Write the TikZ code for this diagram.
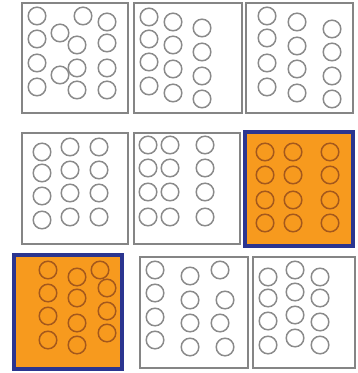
\documentclass[tikz,border=0pt]{standalone}
\usepackage{tikz}
\definecolor{frame}{HTML}{858585}
\definecolor{navy}{HTML}{2B3590}
\definecolor{amber}{HTML}{F79A1E}
\definecolor{ringgray}{HTML}{8A8A8A}
\definecolor{ringbrown}{HTML}{A4581C}
\begin{document}
\begin{tikzpicture}[x=0.75pt,y=-0.75pt,
 cell/.style={draw=frame,line width=1.2pt,fill=white},
 pick/.style={draw=navy,line width=2.4pt,fill=amber},
 ring/.style={draw=ringgray,line width=1.1pt},
 hot/.style={draw=ringbrown,line width=1.1pt}]
 \useasboundingbox (0,0) rectangle (357,373);
 \draw[cell] (22,3) rectangle (128,113);
 \draw[cell] (134,3) rectangle (242,113);
 \draw[cell] (246,3) rectangle (353,113);
 \draw[cell] (22,133) rectangle (128,244);
 \draw[cell] (134,133) rectangle (240,244);
 \draw[pick] (245,132) rectangle (353,246);
 \draw[pick] (14,255) rectangle (122,369);
 \draw[cell] (140,257) rectangle (248,368);
 \draw[cell] (253,257) rectangle (355,368);
 \foreach \x/\y in {37/16,83/16,107/22,37/39,60/33,77/45,107/43,37/63,60/75,77/68,107/68,37/87,77/90,107/90,
  149/17,173/22,202/28,149/39,173/45,202/52,149/62,173/69,202/76,149/86,173/93,202/99,
  267/16,297/22,332/29,267/38,297/46,332/52,267/63,297/69,332/76,267/87,297/93,332/99,
  42/152,70/147,99/147,42/173,70/170,99/170,42/196,70/193,99/193,42/220,70/217,99/217,
  148/145,170/145,205/145,148/168,170/168,205/168,148/192,170/192,205/192,148/217,170/217,205/217,
  155/270,190/276,220/270,155/293,190/300,225/300,155/317,190/323,220/323,155/340,190/347,225/347,
  268/277,295/270,320/277,268/298,295/292,320/298,268/321,295/315,320/322,268/345,295/338,320/345}
  \draw[ring] (\x,\y) circle[radius=6.6pt];
 \foreach \x/\y in {265/152,293/152,330/152,265/175,293/175,330/175,265/200,293/200,330/200,265/223,293/223,330/223,
  48/270,77/277,100/270,48/293,77/298,107/288,48/316,77/323,107/311,48/340,77/345,107/333}
  \draw[hot] (\x,\y) circle[radius=6.6pt];
\end{tikzpicture}
\end{document}
